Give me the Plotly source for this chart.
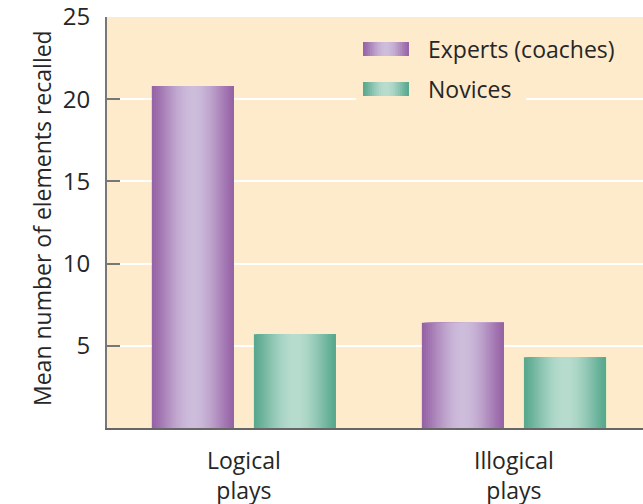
import plotly.graph_objects as go
import numpy as np

categories = ["Logical<br>plays", "Illogical<br>plays"]
series_names = ["Experts (coaches)", "Novices"]
experts = [20.8, 6.4]
novices = [5.7, 4.3]
y_ticks = [5, 10, 15, 20, 25]

FONT = "Open Sans"
TXT = "#262626"
BG = "#FDEBCC"
PURPLE_EDGE, PURPLE_MID = (150, 98, 166), (205, 188, 219)
GREEN_EDGE, GREEN_MID = (88, 168, 142), (183, 220, 206)

W, H = 643, 504
L, R, T, B = 107, 0, 17, 76


def mix(c1, c2, f):
    return "rgb(%d,%d,%d)" % tuple(round(a + (b - a) * f) for a, b in zip(c1, c2))


def profile(t):
    return np.sin(np.pi * t) ** 1.3


N = 40
bar_w = 0.304
step = bar_w / N
series = [
    (series_names[0], experts, -0.341, PURPLE_EDGE, PURPLE_MID),
    (series_names[1], novices, 0.037, GREEN_EDGE, GREEN_MID),
]

fig = go.Figure()
for name, vals, off, edge, mid in series:
    for i in range(N):
        t = (i + 0.5) / N
        fig.add_trace(go.Bar(
            x=categories, y=vals, name=name,
            offset=off + i * step, width=bar_w - i * step,
            marker=dict(color=mix(edge, mid, profile(t)), line=dict(width=0)),
            showlegend=False, hoverinfo="skip",
        ))

# manual legend
pw, ph = W - L - R, H - T - B


def px(x):
    return (x - L) / pw


def py(y):
    return (H - B - y) / ph


shapes = [dict(type="rect", xref="paper", yref="paper", x0=px(356), x1=px(526),
               y0=py(104), y1=py(30), fillcolor=BG, line=dict(width=0), layer="above")]
annotations = []
sw_x0, sw_x1 = 363, 409
for (name, _, _, edge, mid), (ya, yb) in zip(series, [(42, 56), (82, 96)]):
    M = 20
    for i in range(M):
        t = (i + 0.5) / M
        shapes.append(dict(type="rect", xref="paper", yref="paper",
                           x0=px(sw_x0 + i * (sw_x1 - sw_x0) / M), x1=px(sw_x1),
                           y0=py(yb), y1=py(ya),
                           fillcolor=mix(edge, mid, profile(t)), line=dict(width=0), layer="above"))
    annotations.append(dict(xref="paper", yref="paper", x=px(426), y=py((ya + yb) / 2),
                            text=name, showarrow=False, xanchor="left", yanchor="middle",
                            font=dict(family=FONT, size=23, color=TXT)))

annotations.append(dict(xref="paper", yref="paper", x=px(42), y=py(218),
                        text="Mean number of elements recalled", textangle=-90,
                        showarrow=False, xanchor="center", yanchor="middle",
                        font=dict(family=FONT, size=23, color=TXT)))

fig.update_layout(
    width=W, height=H,
    margin=dict(l=L, r=R, t=T, b=B, pad=0, autoexpand=False),
    paper_bgcolor="white", plot_bgcolor=BG,
    barmode="overlay",
    shapes=shapes, annotations=annotations,
    showlegend=False,
    font=dict(family=FONT, size=20, color=TXT),
    xaxis=dict(type="category", range=[-0.507, 1.478], showgrid=False,
               showline=True, linecolor="#666666", linewidth=2,
               ticks="", tickfont=dict(size=23, color=TXT), ticklabelstandoff=11,
               automargin=False, fixedrange=True),
    yaxis=dict(range=[0, 25], tickvals=y_ticks, showgrid=True, gridcolor="white",
               gridwidth=2, showline=True, linecolor="#777777", linewidth=2,
               ticks="inside", ticklen=13, tickwidth=2, tickcolor="#777777",
               tickfont=dict(size=24, color=TXT), ticklabelstandoff=10,
               ticklabeloverflow="allow", automargin=False,
               zeroline=False, fixedrange=True),
)

fig.write_html("out.html")
